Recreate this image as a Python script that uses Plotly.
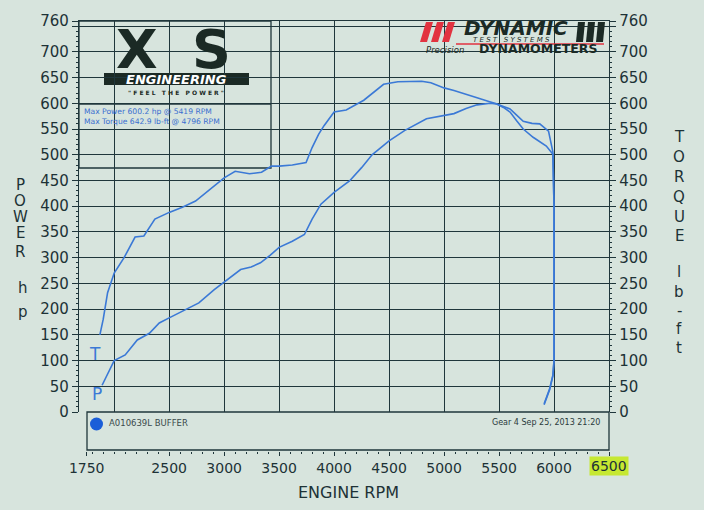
import plotly.graph_objects as go

# ---------------- data ----------------
rpm_torque = [1870, 1900, 1940, 2000, 2090, 2190, 2270, 2370, 2500, 2620, 2740, 2860,
              3000, 3100, 3230, 3340, 3430, 3500, 3620, 3745, 3800, 3860, 3910, 4000,
              4110, 4270, 4360, 4450, 4580, 4700, 4796, 4880, 5000, 5090, 5200, 5300,
              5400, 5475, 5540, 5600, 5660, 5720, 5810, 5930, 5990, 6000, 6000, 6000,
              5990, 5960, 5910]
torque_lbft = [150, 180, 232, 270, 300, 340, 342, 375, 388, 398, 410, 430,
               455, 468, 463, 466, 478, 478, 480, 485, 514, 540, 557, 583,
               587, 606, 622, 637, 642, 643, 642.9, 640, 630, 625, 617, 611,
               604, 599, 592, 583, 566, 550, 534, 517, 501, 400, 250, 100,
               70, 43, 14]

rpm_power = [1890, 1955, 2000, 2100, 2210, 2320, 2410, 2500, 2620, 2770, 2910, 3000,
             3150, 3245, 3330, 3420, 3500, 3620, 3730, 3800, 3880, 4000, 4140, 4250,
             4345, 4500, 4640, 4840, 5000, 5090, 5200, 5300, 5419, 5475, 5540, 5600,
             5660, 5720, 5800, 5870, 5950, 5990, 6000, 6000, 6000, 5990, 5960, 5910]
power_hp = [52, 82, 100, 111, 140, 153, 173, 183, 196, 212, 238, 253,
            277, 282, 290, 305, 320, 332, 345, 375, 404, 427, 449, 475,
            500, 527, 547, 570, 576, 580, 590, 597, 600.2, 599, 594, 589,
            577, 565, 561, 560, 546, 505, 400, 250, 100, 72, 45, 16]

x_grid_rpm = [2000, 2500, 3000, 3500, 4000, 4500, 5000, 5500, 6000]
x_label_rpm = [1750, 2500, 3000, 3500, 4000, 4500, 5000, 5500, 6000, 6500]
x_label_text = ["1750", "2500", "3000", "3500", "4000", "4500", "5000", "5500", "6000", ""]
x_minor_rpm = [v for v in range(1800, 6500, 100) if v not in x_label_rpm]
y_major = list(range(0, 751, 50)) + [760]
y_major_text = [str(v) if v <= 700 or v == 760 else "" for v in y_major]
y_minor = [v for v in range(0, 761, 10) if v % 50 and v != 760]

info_left = "A010639L BUFFER"
info_right = "Gear 4 Sep 25, 2013 21:20"
max_lines = ["Max Power 600.2 hp @ 5419 RPM", "Max Torque 642.9 lb-ft @ 4796 RPM"]

# ---------------- styling ----------------
W, H = 704, 510
BG = "#d7e4dd"
GRID = "#1f363b"
TXT = "#1d3236"
CURVE = "#3b79d6"
LOGO = "#1b2a25"
FONT = "DejaVu Sans"


def X(px):
    return px / W


def Y(py):
    return 1 - py / H


fig = go.Figure()
fig.add_trace(go.Scatter(x=rpm_torque, y=torque_lbft, mode="lines", yaxis="y2",
                         line=dict(color=CURVE, width=1.6), name="Torque",
                         hoverinfo="skip"))
fig.add_trace(go.Scatter(x=rpm_power, y=power_hp, mode="lines",
                         line=dict(color=CURVE, width=1.6), name="Power",
                         hoverinfo="skip"))
# empty trace so the bottom label axis is drawn
fig.add_trace(go.Scatter(x=[None], y=[None], xaxis="x2", mode="lines",
                         showlegend=False, hoverinfo="skip"))

axis_common = dict(range=[0, 760], tickvals=y_major, ticktext=y_major_text,
                   ticks="outside", ticklen=6, automargin=False,
                   tickcolor=GRID, tickwidth=1.2, showline=True, linecolor=GRID,
                   linewidth=1.3, zeroline=False,
                   tickfont=dict(family=FONT, size=15, color=TXT),
                   minor=dict(tickvals=y_minor, ticks="outside", ticklen=2,
                              tickcolor=GRID, tickwidth=1.2, showgrid=False))

fig.update_layout(
    width=W, height=H, autosize=False,
    margin=dict(l=0, r=0, t=0, b=0, pad=0, autoexpand=False),
    paper_bgcolor=BG, plot_bgcolor=BG,
    showlegend=False,
    font=dict(family=FONT, color=TXT),
    xaxis=dict(domain=[X(79), X(609)], range=[1680, 6500], tickvals=x_grid_rpm,
               showticklabels=False, ticks="", showgrid=True, gridcolor=GRID,
               gridwidth=1.3, showline=True, linecolor=GRID, linewidth=1.3,
               side="top", anchor="y", zeroline=False, automargin=False),
    xaxis2=dict(overlaying="x", anchor="free", position=Y(451), side="bottom",
                range=[1680, 6500], tickvals=x_label_rpm, ticktext=x_label_text,
                ticks="outside", ticklen=4, tickcolor=GRID, tickwidth=1.2,
                showgrid=False, showline=False, zeroline=False, automargin=False,
                tickfont=dict(family=FONT, size=14, color=TXT),
                minor=dict(tickvals=x_minor_rpm, ticks="outside", ticklen=2,
                           tickcolor=GRID, tickwidth=1.2, showgrid=False)),
    yaxis=dict(domain=[Y(412), Y(21)], side="left", showgrid=True, gridcolor=GRID,
               gridwidth=1.3, **axis_common),
    yaxis2=dict(overlaying="y", side="right", showgrid=False, **axis_common),
)

shapes = []
# XS Engineering box (covers the grid)
shapes.append(dict(type="rect", xref="paper", yref="paper", x0=X(79), x1=X(271),
                   y0=Y(168), y1=Y(21), fillcolor=BG, line=dict(color=GRID, width=1.3),
                   layer="between"))
shapes.append(dict(type="line", xref="paper", yref="paper", x0=X(79), x1=X(271),
                   y0=Y(104), y1=Y(104), line=dict(color=GRID, width=1.3), layer="between"))
shapes.append(dict(type="rect", xref="paper", yref="paper", x0=X(104), x1=X(249),
                   y0=Y(85), y1=Y(73), fillcolor=LOGO, line=dict(width=0),
                   layer="between"))
# Dynamic logo area (covers the grid)
shapes.append(dict(type="rect", xref="paper", yref="paper", x0=X(414), x1=X(608),
                   y0=Y(50), y1=Y(22), fillcolor=BG, line=dict(width=0), layer="between"))


def bar_path(xb, top, bot, w=7, slant=6):
    pts = [(xb, bot), (xb + w, bot), (xb + w + slant, top), (xb + slant, top)]
    return "M " + " L ".join(f"{X(a):.5f},{Y(b):.5f}" for a, b in pts) + " Z"


for i in range(3):
    shapes.append(dict(type="path", xref="paper", yref="paper",
                       path=bar_path(420 + i * 11, 22, 42), fillcolor="#e23340",
                       line=dict(width=0), layer="above"))
    shapes.append(dict(type="path", xref="paper", yref="paper",
                       path=bar_path(576 + i * 10, 22, 42, w=7, slant=2),
                       fillcolor=LOGO, line=dict(width=0), layer="above"))
shapes.append(dict(type="line", xref="paper", yref="paper", x0=X(456), x1=X(604),
                   y0=Y(44), y1=Y(44), line=dict(color="#e23340", width=1.6)))
# info box under the plot
shapes.append(dict(type="rect", xref="paper", yref="paper", x0=X(87), x1=X(609),
                   y0=Y(450), y1=Y(412), line=dict(color=GRID, width=1.3)))
shapes.append(dict(type="circle", xref="paper", yref="paper", x0=X(90), x1=X(103),
                   y0=Y(430.5), y1=Y(417.5), fillcolor="#1a5ed8", line=dict(width=0)))
fig.update_layout(shapes=shapes)

ann = []


def text(px, py, s, size, color=TXT, xanchor="center", bold=False, italic=False, **kw):
    if bold:
        s = f"<b>{s}</b>"
    if italic:
        s = f"<i>{s}</i>"
    ann.append(dict(xref="paper", yref="paper", x=X(px), y=Y(py), text=s,
                    showarrow=False, xanchor=xanchor, yanchor="middle",
                    font=dict(family=FONT, size=size, color=color), **kw))


# XS logo
text(137, 50, "X", 54, color=LOGO, bold=True, borderpad=0)
text(211, 50, "S", 54, color=LOGO, bold=True, borderpad=0)
text(176, 79, "ENGINEERING", 13, color="#ffffff", bold=True, italic=True, borderpad=0)
text(176, 92, '" F E E L &nbsp; T H E &nbsp; P O W E R "', 6, color=LOGO, bold=True,
     borderpad=0)
text(82, 111, max_lines[0], 7.6, color="#3a6fd0", xanchor="left")
text(82, 121, max_lines[1], 7.6, color="#3a6fd0", xanchor="left")

# Dynamic logo
text(516, 28, "DYNAMIC", 20, color=LOGO, bold=True, italic=True, borderpad=0)
text(511, 40, "T E S T &nbsp; S Y S T E M S", 7, color=LOGO, italic=True, borderpad=0)
text(445, 50, "Precision", 8.5, color=LOGO, italic=True, borderpad=0)
text(538, 49, "DYNAMOMETERS", 12.5, color=LOGO, bold=True, borderpad=0)

# curve tags
text(95, 354, "T", 17, color=CURVE)
text(97, 394, "P", 17, color=CURVE)

# info box text
text(107, 423, info_left, 8.5, color="#3a4a4c", xanchor="left")
text(602, 422, info_right, 8, color="#2a3a3c", xanchor="right")

# stacked axis titles
for ch, px, py in [("P", 20, 185), ("O", 20, 201), ("W", 20, 217), ("E", 20, 233),
                   ("R", 20, 252), ("h", 23, 288), ("p", 23, 312)]:
    text(px, py, ch, 15)
for ch, py in [("T", 137), ("O", 157), ("R", 177), ("Q", 197), ("U", 217), ("E", 236),
               ("l", 272), ("b", 292), ("-", 311), ("f", 329), ("t", 348)]:
    text(679, py, ch, 15)

# x title
text(348, 492, "ENGINE RPM", 16)

fig.update_layout(annotations=ann)
# highlighted 6500 label
fig.add_annotation(x=6500, xref="x", y=Y(466), yref="paper", text="6500",
                   showarrow=False, xanchor="center", yanchor="middle",
                   bgcolor="#c6e832", borderpad=1,
                   font=dict(family=FONT, size=14, color=TXT))

fig.write_html(
    "out.html",
    config={"displayModeBar": False},
    post_script=("document.body.style.margin='0px';"
                 "document.body.style.overflow='hidden';"
                 "var gd=document.getElementById('{plot_id}');"
                 "Plotly.relayout(gd,{width:704,height:510});"),
)
